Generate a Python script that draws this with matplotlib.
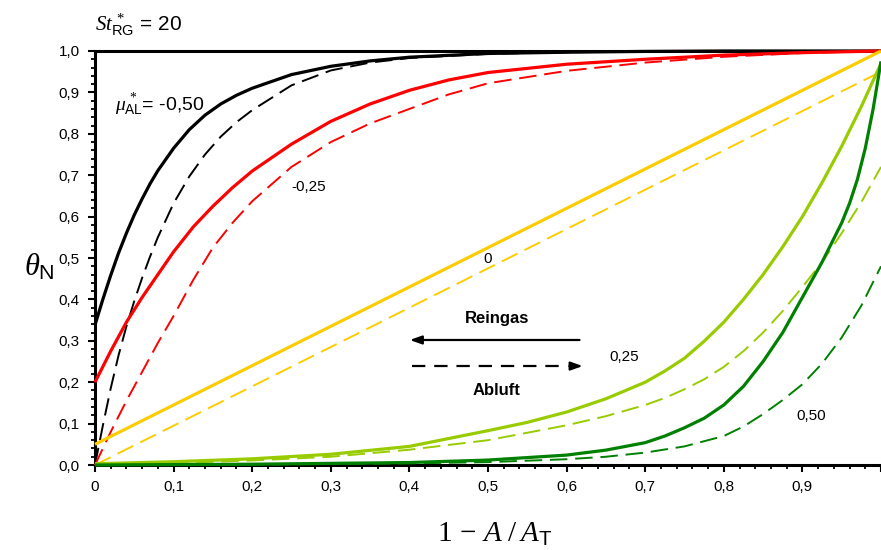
import numpy as np
import matplotlib
matplotlib.use('Agg')
import matplotlib.pyplot as plt
from matplotlib.ticker import MultipleLocator, FuncFormatter

plt.rcParams['font.family'] = ['Liberation Sans', 'DejaVu Sans']
plt.rcParams['mathtext.fontset'] = 'custom'
plt.rcParams['mathtext.rm'] = 'Liberation Serif'
plt.rcParams['mathtext.sf'] = 'Liberation Sans'
plt.rcParams['mathtext.it'] = 'Liberation Serif:italic'
plt.rcParams['mathtext.fallback'] = 'stix'

# mu_AL* = -0,50
x_blk = [0, 0.01, 0.02, 0.03, 0.04, 0.05, 0.06, 0.07, 0.08, 0.1, 0.12, 0.14, 0.16, 0.18, 0.2,
         0.25, 0.3, 0.35, 0.4, 0.5, 0.6, 0.7, 0.8, 1.0]
rg_blk = [0.338, 0.40, 0.458, 0.512, 0.56, 0.604, 0.643, 0.679, 0.711, 0.765, 0.81, 0.845, 0.872, 0.893, 0.91,
          0.943, 0.963, 0.976, 0.985, 0.994, 0.997, 0.999, 1.0, 1.0]
al_blk = [0.0, 0.095, 0.185, 0.265, 0.335, 0.396, 0.452, 0.503, 0.55, 0.632, 0.697, 0.75, 0.793, 0.828, 0.857,
          0.917, 0.953, 0.972, 0.983, 0.993, 0.997, 0.999, 1.0, 1.0]

# mu_AL* = -0,25
x_red = [0, 0.02, 0.04, 0.06, 0.08, 0.1, 0.125, 0.15, 0.175, 0.2, 0.25, 0.3, 0.35, 0.4, 0.45,
         0.5, 0.6, 0.7, 0.8, 0.9, 1.0]
rg_red = [0.2, 0.275, 0.345, 0.405, 0.46, 0.515, 0.575, 0.625, 0.67, 0.71, 0.775, 0.83, 0.872, 0.905, 0.93,
          0.948, 0.968, 0.98, 0.99, 0.996, 1.0]
al_red = [0.0, 0.08, 0.155, 0.225, 0.295, 0.36, 0.447, 0.525, 0.585, 0.637, 0.72, 0.78, 0.825, 0.86, 0.895,
          0.922, 0.952, 0.972, 0.986, 0.995, 1.0]

# mu_AL* = 0
x_yel = [0, 1.0]
rg_yel = [0.05, 1.0]
al_yel = [0.0, 0.95]

# mu_AL* = 0,25
x_lgr = [0, 0.1, 0.2, 0.3, 0.4, 0.5, 0.55, 0.6, 0.65, 0.7, 0.725, 0.75, 0.775, 0.8, 0.825, 0.85,
         0.875, 0.9, 0.925, 0.95, 0.975, 1.0]
rg_lgr = [0.003, 0.008, 0.015, 0.026, 0.045, 0.083, 0.103, 0.128, 0.16, 0.2, 0.227, 0.258, 0.299, 0.345,
          0.40, 0.46, 0.527, 0.60, 0.682, 0.77, 0.866, 0.97]
al_lgr = [0.0, 0.005, 0.011, 0.02, 0.037, 0.06, 0.078, 0.096, 0.118, 0.145, 0.162, 0.183, 0.207, 0.237,
          0.275, 0.32, 0.372, 0.43, 0.49, 0.56, 0.635, 0.72]

# mu_AL* = 0,50
x_dgr = [0, 0.2, 0.4, 0.5, 0.6, 0.65, 0.7, 0.725, 0.75, 0.775, 0.8, 0.825, 0.85, 0.875, 0.9, 0.925,
         0.95, 0.96, 0.97, 0.98, 0.99, 1.0]
rg_dgr = [0.0, 0.002, 0.006, 0.012, 0.024, 0.036, 0.054, 0.07, 0.09, 0.113, 0.145, 0.19, 0.25, 0.32, 0.405,
          0.49, 0.585, 0.632, 0.69, 0.765, 0.86, 0.975]
x_dgr2 = [0, 0.2, 0.4, 0.5, 0.6, 0.65, 0.7, 0.75, 0.8, 0.825, 0.85, 0.875, 0.9, 0.925, 0.95,
          0.975, 1.0]
al_dgr = [0.0, 0.001, 0.004, 0.007, 0.014, 0.02, 0.03, 0.045, 0.07, 0.093, 0.123, 0.157, 0.195, 0.245,
          0.308, 0.385, 0.48]

series = [
    (x_blk, rg_blk, x_blk, al_blk, 'black'),
    (x_red, rg_red, x_red, al_red, '#ff0000'),
    (x_yel, rg_yel, x_yel, al_yel, '#ffcc00'),
    (x_lgr, rg_lgr, x_lgr, al_lgr, '#99cc00'),
    (x_dgr, rg_dgr, x_dgr2, al_dgr, '#008000'),
]

fig = plt.figure(figsize=(8.81, 5.5), dpi=100)
ax = fig.add_axes([0.1078, 0.1545, 0.8922, 0.7528])

for xs, ys, xd, yd, c in series:
    ax.plot(xs, ys, color=c, lw=2.3, solid_capstyle='butt', solid_joinstyle='round', clip_on=False, zorder=3)
    ax.plot(xd, yd, color=c, lw=1.4, dashes=(9, 4), clip_on=False, zorder=3)

ax.set_xlim(0, 1.0)
ax.set_ylim(0, 1.0)

ax.xaxis.set_major_locator(MultipleLocator(0.1))
ax.xaxis.set_minor_locator(MultipleLocator(0.02))
ax.yaxis.set_major_locator(MultipleLocator(0.1))
ax.yaxis.set_minor_locator(MultipleLocator(0.02))


def fmt_x(v, pos):
    if abs(v) < 1e-9:
        return '0'
    if v > 0.95:
        return ''
    return ('%.1f' % v).replace('.', ',')


def fmt_y(v, pos):
    return ('%.1f' % v).replace('.', ',')


ax.xaxis.set_major_formatter(FuncFormatter(fmt_x))
ax.yaxis.set_major_formatter(FuncFormatter(fmt_y))
ax.tick_params(which='major', direction='out', length=5, width=1.5, labelsize=11, pad=6)
ax.tick_params(which='minor', direction='out', length=3, width=1.3)
ax.tick_params(axis='x', which='both', top=False)
ax.tick_params(axis='y', which='both', right=False)

for s in ['left', 'bottom', 'top']:
    ax.spines[s].set_linewidth(2.2)
ax.spines['right'].set_visible(False)

# Achsenbeschriftung
fig.text(0.045, 0.515, r'$\theta_\mathsf{N}$', fontsize=22, ha='center', va='center')
fig.text(0.562, 0.03, r'$1\,-\,A\;/\;A_\mathsf{T}$', fontsize=21, ha='center', va='center')
fig.text(0.108, 0.955, r'$St^{\,*}_\mathsf{RG}$ = 20', fontsize=15, ha='left', va='center')

# Kurvenbeschriftungen
ax.text(0.025, 0.87, r'$\mu^{\,*}_\mathsf{AL}$= -0,50', fontsize=14, ha='left', va='center')
ax.text(0.25, 0.672, '-0,25', fontsize=11, ha='left', va='center')
ax.text(0.50, 0.497, '0', fontsize=11, ha='center', va='center')
ax.text(0.655, 0.26, '0,25', fontsize=11, ha='left', va='center')
ax.text(0.892, 0.118, '0,50', fontsize=11, ha='left', va='center')

# Pfeile Reingas / Abluft
ax.text(0.511, 0.355, 'Reingas', fontsize=12, fontweight='bold', ha='center', va='center')
ax.annotate('', xy=(0.397, 0.302), xytext=(0.62, 0.302),
            arrowprops=dict(arrowstyle='-|>,head_length=0.7,head_width=0.25', color='black', lw=1.6))
ax.plot([0.403, 0.60], [0.239, 0.239], color='black', lw=1.6, dashes=(6, 4))
ax.annotate('', xy=(0.624, 0.239), xytext=(0.60, 0.239),
            arrowprops=dict(arrowstyle='-|>,head_length=0.7,head_width=0.25', color='black', lw=1.6))
ax.text(0.511, 0.179, 'Abluft', fontsize=12, fontweight='bold', ha='center', va='center')

fig.savefig('out.png', dpi=100)
